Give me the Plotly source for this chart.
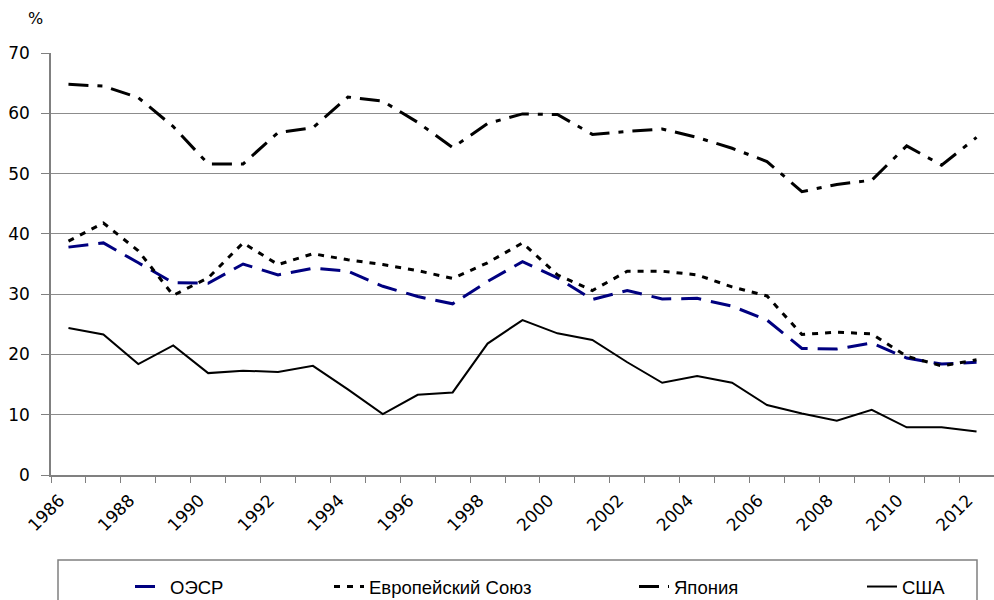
import plotly.graph_objects as go

years = list(range(1986, 2013))
oecd = [37.8, 38.5, 35.2, 31.9, 31.8, 35.0, 33.2, 34.3, 33.8, 31.3, 29.6, 28.4, 32.1,
        35.4, 32.7, 29.1, 30.6, 29.2, 29.3, 28.0, 25.7, 21.0, 20.9, 21.9, 19.4, 18.4, 18.7]
eu = [38.8, 41.8, 37.2, 29.8, 32.7, 38.5, 34.9, 36.7, 35.7, 34.9, 33.9, 32.6, 35.2,
      38.5, 33.2, 30.6, 33.8, 33.8, 33.2, 31.2, 29.7, 23.3, 23.7, 23.4, 19.7, 18.1, 19.1]
japan = [64.8, 64.5, 62.6, 57.8, 51.6, 51.6, 56.8, 57.6, 62.7, 62.0, 58.5, 54.3, 58.3,
         59.9, 59.8, 56.5, 57.0, 57.4, 56.0, 54.2, 52.0, 47.0, 48.2, 48.9, 54.6, 51.4, 56.0]
usa = [24.4, 23.3, 18.4, 21.5, 16.9, 17.3, 17.1, 18.1, 14.2, 10.1, 13.3, 13.7, 21.8,
       25.7, 23.5, 22.4, 18.7, 15.3, 16.4, 15.3, 11.6, 10.2, 9.0, 10.8, 7.9, 7.9, 7.2]
names = ["ОЭСР", "Европейский Союз", "Япония", "США"]
label_years = years[::2]
y_ticks = [0, 10, 20, 30, 40, 50, 60, 70]

fig = go.Figure()
styles = [
    dict(color="#000080", width=3, dash="20px,10px"),
    dict(color="#000000", width=3, dash="6px,7px"),
    dict(color="#000000", width=3, dash="20px,9px,5px,9px"),
    dict(color="#000000", width=2, dash="solid"),
]
series = [oecd, eu, japan, usa]
legend_ids = ["legend", "legend2", "legend3", "legend4"]
for s, n, st, lg in zip(series, names, styles, legend_ids):
    fig.add_trace(go.Scatter(x=years, y=s, name=n, mode="lines", line=st, legend=lg))

W, H = 994, 600
L, R, T, B = 51, 0, 53, 125
pw, ph = W - L - R, H - T - B

def px2x(p):
    return (p - L) / pw

def py2y(p):
    return (H - B - p) / ph

leg_common = dict(orientation="h", yanchor="middle", y=py2y(587), xanchor="left",
                  bgcolor="rgba(0,0,0,0)", font=dict(family="Liberation Sans, Arial", size=18.5, color="#000"))
text_x = [171, 370, 675, 903]
fig.update_layout(
    width=W, height=H,
    margin=dict(l=L, r=R, t=T, b=B, autoexpand=False),
    paper_bgcolor="white", plot_bgcolor="white",
    font=dict(family="DejaVu Sans", size=17, color="#000"),
    xaxis=dict(range=[1985.5, 2012.5], tickvals=[yv - 0.25 for yv in label_years],
               ticktext=[str(yv) for yv in label_years], tickangle=-45, ticks="",
               ticklabelstandoff=7, automargin=False,
               showgrid=False, showline=True, linecolor="#808080", linewidth=1.5,
               tickfont=dict(family="DejaVu Sans", size=17),
               minor=dict(ticks="outside", tick0=1985.5, dtick=1, ticklen=6, tickcolor="#808080", showgrid=False),
               zeroline=False),
    yaxis=dict(range=[0, 70], tickvals=y_ticks, ticks="outside", ticklen=8, tickcolor="#808080",
               ticklabelstandoff=8, automargin=False,
               showgrid=True, gridcolor="#8c8c8c", gridwidth=1, showline=True, linecolor="#808080",
               linewidth=1.5, zeroline=False, tickfont=dict(family="DejaVu Sans", size=17)),
    legend=dict(x=px2x(text_x[0] - 41), **leg_common),
    legend2=dict(x=px2x(text_x[1] - 41), **leg_common),
    legend3=dict(x=px2x(text_x[2] - 41), **leg_common),
    legend4=dict(x=px2x(text_x[3] - 41), **leg_common),
    shapes=[dict(type="rect", xref="paper", yref="paper", x0=px2x(58), x1=px2x(977),
                 y0=py2y(560), y1=py2y(610), line=dict(color="#808080", width=1.5))],
    annotations=[dict(text="%", xref="paper", yref="paper", x=px2x(35), y=py2y(19),
                      xanchor="center", yanchor="middle",
                      showarrow=False, font=dict(family="DejaVu Sans", size=16))],
    showlegend=True,
)
fig.write_html("out.html", config={"displayModeBar": False},
               post_script="document.body.style.margin='0';document.body.style.overflow='hidden';")
